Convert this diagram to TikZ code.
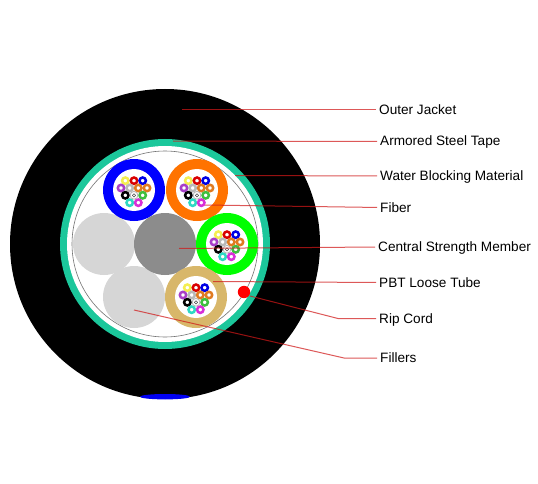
\documentclass[tikz,border=0pt]{standalone}
\usepackage{fontspec}
\setmainfont{Liberation Sans}
\definecolor{teal1}{HTML}{1BC79B}
\definecolor{leader}{HTML}{D01818}
\definecolor{tan1}{HTML}{D8B76A}
\definecolor{fcyan}{HTML}{2ED9C3}
\definecolor{fmag}{HTML}{D82FD8}
\definecolor{fpur}{HTML}{A83FC8}
\definecolor{fora}{HTML}{E07A20}
\definecolor{fgrn}{HTML}{3FBF3F}
\definecolor{fyel}{HTML}{F4EE50}
\definecolor{fgry}{HTML}{B8B8B8}
\tikzset{
  lbl/.style={anchor=west,inner sep=0pt,font=\fontsize{13.6}{15}\selectfont,text height=9.5pt,text depth=0.5pt,text=black},
  leaderline/.style={draw=leader,draw opacity=.72,line width=1pt,shorten >=3pt},
  fibre/.style={draw=#1,line width=2.5pt,fill=white},
  pics/tube/.style={code={
    \fill[#1] (0,0) circle (31);
    \fill[white] (0,0) circle (21);
    \foreach \fx/\fy/\fc in {-8.7/-9.3/fyel,0/-9.3/red!85!black,8.7/-9.3/blue!90!black,
      -13/-2/fpur,-4.3/-2/fgry,4.3/-2/fora,13/-2/fora,
      -8.7/5.3/black,8.7/5.3/fgrn,-4.3/12.7/fcyan,4.3/12.7/fmag}
      {\draw[fibre=\fc] (\fx,\fy) circle (3.2);}
    \draw[fgry,line width=.9pt,fill=white] (0,5.3) circle (3.9);
    \draw[black!70,line width=.5pt] (0,5.3) circle (1.6);
  }}
}
\begin{document}
\begin{tikzpicture}[x=1pt,y=-1pt]
\useasboundingbox (0,0) rectangle (538,484);
\fill[white] (0,0) rectangle (538,484);
% cable body
\fill[black] (165,244) circle (155);
\fill[blue!95!black] (165,396.7) ellipse (25 and 2.7);
\fill[teal1] (165,244) circle (105);
\fill[white] (165,244) circle (98);
\draw[black!55,line width=.6pt] (165,244) circle (93);
% fillers and central member
\fill[black!16] (104,244) circle (31);
\fill[black!16] (134,297) circle (31);
\fill[black!45] (165,244) circle (31);
% loose tubes
\pic at (134,190) {tube={blue}};
\pic at (197,190) {tube={orange!90!red}};
\pic at (227,244) {tube={green}};
\pic at (196,297) {tube={tan1}};
\fill[red] (244,292) circle (6.2);
% labels
\node[lbl] (jacket) at (379,110) {Outer Jacket};
\node[lbl] (armor) at (380,141.5) {Armored Steel Tape};
\node[lbl] (water) at (380,176) {Water Blocking Material};
\node[lbl] (fiber) at (380,207.5) {Fiber};
\node[lbl] (csm) at (378,247) {Central Strength Member};
\node[lbl] (pbt) at (379,282.5) {PBT Loose Tube};
\node[lbl] (rip) at (379,318.5) {Rip Cord};
\node[lbl] (fill) at (380,358) {Fillers};
% leader start points and bends
\coordinate (sJacket) at (182,110);
\coordinate (sArmor) at (173,141);
\coordinate (sWater) at (235,175.5);
\coordinate (sFiber) at (205,205);
\coordinate (sCsm) at (179,248.5);
\coordinate (sPbt) at (213,281.5);
\coordinate (sRip) at (250,296);
\coordinate (bRip) at (338,318.5);
\coordinate (sFill) at (134,310);
\coordinate (bFill) at (344,358);
\draw[leaderline] (sJacket) -- (jacket.west);
\draw[leaderline] (sArmor) -- (armor.west);
\draw[leaderline] (sWater) -- (water.west);
\draw[leaderline] (sFiber) -- (fiber.west);
\draw[leaderline] (sCsm) -- (csm.west);
\draw[leaderline] (sPbt) -- (pbt.west);
\draw[leaderline] (sRip) -- (bRip) -- (rip.west);
\draw[leaderline] (sFill) -- (bFill) -- (fill.west);
\end{tikzpicture}
\end{document}
